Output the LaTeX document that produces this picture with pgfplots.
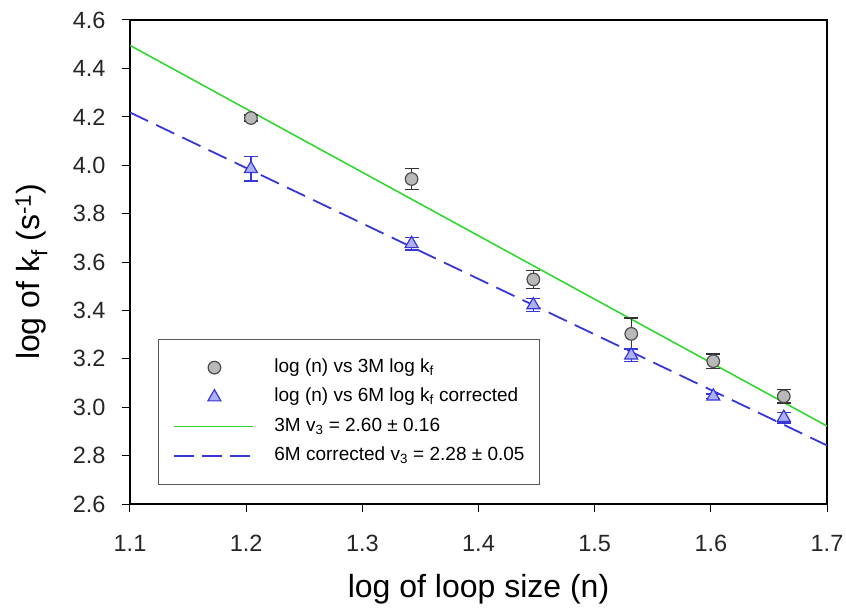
\documentclass[border=0pt]{standalone}
\usepackage{fontspec}
\setmainfont{Liberation Sans}
\usepackage{pgfplots}
\usepackage{pgfplotstable}
\pgfplotsset{compat=1.18}
\definecolor{lgreen}{RGB}{40,215,40}
\definecolor{lblue}{RGB}{55,55,215}
\definecolor{trifill}{RGB}{175,175,245}
\definecolor{circfill}{RGB}{185,185,185}
\pgfplotsset{
  circleg/.style={legend image code/.code={\path[draw=none,fill=none] (0bp,-6bp) rectangle (100bp,6bp); \draw[fill=circfill, draw=black!70, line width=1.2bp, solid] (40bp,0bp) circle[radius=6.3bp];}},
  trileg/.style={legend image code/.code={\path[draw=none,fill=none] (0bp,-6bp) rectangle (100bp,6bp); \draw[fill=trifill, draw=lblue, line width=1.2bp, solid] (40bp,7.5bp) -- (33.5bp,-3.75bp) -- (46.5bp,-3.75bp) -- cycle;}},
  greenleg/.style={legend image code/.code={\path[draw=none,fill=none] (0bp,-6bp) rectangle (100bp,6bp); \draw[lgreen, line width=1.5bp, solid] (0bp,0bp) -- (79bp,0bp);}},
  blueleg/.style={legend image code/.code={\path[draw=none,fill=none] (0bp,-6bp) rectangle (100bp,6bp); \draw[lblue, line width=1.8bp, dash pattern=on 20bp off 8bp] (0bp,0bp) -- (79bp,0bp);}},
}
\pgfplotstableread{
x y e
1.2041 4.195 0.012
1.3424 3.943 0.042
1.4472 3.528 0.038
1.5315 3.303 0.065
1.6021 3.190 0.030
1.6628 3.045 0.028
}\threeM
\pgfplotstableread{
x y e
1.2041 3.985 0.050
1.3424 3.675 0.026
1.4472 3.422 0.027
1.5315 3.215 0.025
1.6021 3.045 0.010
1.6628 2.957 0.022
}\sixM
\begin{document}
\begin{tikzpicture}
\begin{axis}[
  scale only axis,
  width=697bp, height=484bp,
  xmin=1.1, xmax=1.7, ymin=2.6, ymax=4.6,
  xtick={1.1,1.2,1.3,1.4,1.5,1.6,1.7},
  ytick={2.6,2.8,3.0,3.2,3.4,3.6,3.8,4.0,4.2,4.4,4.6},
  yticklabel style={/pgf/number format/fixed,/pgf/number format/fixed zerofill,/pgf/number format/precision=1},
  xticklabel style={/pgf/number format/fixed,/pgf/number format/fixed zerofill,/pgf/number format/precision=1},
  /pgf/number format/assume math mode=true,
  tick label style={font=\fontsize{23.5bp}{27bp}\selectfont, text=black!85},
  tick pos=left, tick align=outside,
  major tick length=8bp,
  every tick/.style={black, line width=1bp},
  axis line style={black, line width=1.3bp},
  xlabel={log of loop size (n)},
  ylabel={log of k\textsubscript{f} (s\textsuperscript{-1})},
  every axis x label/.style={at={(axis description cs:0.5,-0.1756)}, anchor=center, font=\fontsize{32bp}{38bp}\selectfont},
  every axis y label/.style={at={(axis description cs:-0.1414,0.48)}, anchor=center, rotate=90, font=\fontsize{32bp}{38bp}\selectfont},
  xticklabel shift=20bp,
  yticklabel shift=13bp,
  legend cell align=left,
  legend style={at={(axis description cs:0.0402,0.039)}, anchor=south west,
    draw=black!65, line width=1bp, fill=white,
    inner xsep=15bp, inner ysep=19bp,
    row sep=10.5bp,
    font=\fontsize{19bp}{22bp}\selectfont,
    nodes={inner sep=0pt, text height=14bp, text depth=5bp, anchor=west}},
]
\addplot[lgreen, line width=1.5bp, forget plot] coordinates {(1.1,4.495) (1.7,2.922)};
\addplot[lblue, line width=1.8bp, dash pattern=on 20bp off 9bp, forget plot] coordinates {(1.1,4.218) (1.7,2.842)};
\addplot[only marks, mark=*, mark size=6.3bp, forget plot,
  mark options={fill=circfill, draw=black!70, line width=1.2bp, solid},
  error bars/.cd, y dir=both, y explicit,
  error bar style={black!80, line width=1.3bp},
  error mark options={rotate=90, mark size=7bp, black!80, line width=1.3bp},
] table[x=x, y=y, y error=e] {\threeM};
\addplot[only marks, mark=triangle*, mark size=7.5bp, forget plot,
  mark options={fill=trifill, draw=lblue, line width=1.2bp, solid},
  error bars/.cd, y dir=both, y explicit,
  error bar style={lblue, line width=1.3bp},
  error mark options={rotate=90, mark size=7bp, lblue, line width=1.3bp},
] table[x=x, y=y, y error=e] {\sixM};
\addlegendimage{circleg}
\addlegendentry{log (n) vs 3M log k\textsubscript{f}}
\addlegendimage{trileg}
\addlegendentry{log (n) vs 6M log k\textsubscript{f} corrected}
\addlegendimage{greenleg}
\addlegendentry{3M v\textsubscript{3} = 2.60 ± 0.16}
\addlegendimage{blueleg}
\addlegendentry{6M corrected v\textsubscript{3} = 2.28 ± 0.05}
\end{axis}
\pgfresetboundingbox
\path[use as bounding box] ([xshift=-130bp,yshift=-105bp]current axis.south west) rectangle ([xshift=19bp,yshift=20bp]current axis.north east);
\end{tikzpicture}
\end{document}
